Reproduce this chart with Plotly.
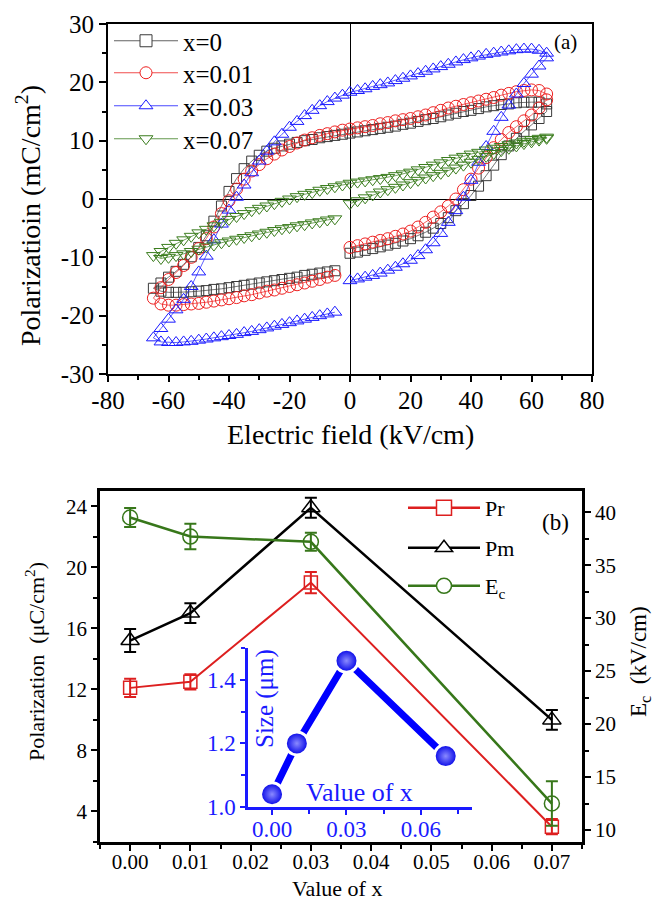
import plotly.graph_objects as go

# ---------------- Panel (a): P-E hysteresis loops ----------------
E_rise = [0, 2.5, 5, 7.5, 10, 12.5, 15, 17.5, 20, 22.5, 25, 27.5, 30, 32.5, 35, 37.5,
          40, 42.5, 45, 47.5, 50, 52.5, 55, 57.5, 60, 62.5, 65]
E_fall = [65, 62.5, 60, 57.5, 55, 52.5, 50, 47.5, 45, 42.5, 40, 37.5, 35, 32.5, 30, 27.5,
          25, 22.5, 20, 17.5, 15, 12.5, 10, 7.5, 5, 2.5, 0, -2.5, -5, -7.5, -10, -12.5,
          -15, -17.5, -20, -22.5, -25, -27.5, -30, -32.5, -35, -37.5, -40, -42.5, -45,
          -47.5, -50, -52.5, -55, -57.5, -60, -62.5, -65]
E_return = [-62.5, -60, -57.5, -55, -52.5, -50, -47.5, -45, -42.5, -40, -37.5, -35, -32.5,
            -30, -27.5, -25, -22.5, -20, -17.5, -15, -12.5, -10, -7.5, -5]

P0_rise = [-9.3, -9.1, -8.8, -8.5, -8.2, -7.9, -7.6, -7.2, -6.8, -6.3, -5.7, -5.0, -4.2, -3.2,
           -2.0, -0.8, 0.6, 2.2, 4.0, 5.8, 7.6, 9.1, 10.4, 11.6, 12.7, 13.8, 15.0]
P0_fall = [16.3, 16.6, 16.6, 16.6, 16.5, 16.3, 16.2, 16.0, 15.8, 15.5, 15.2, 15.0, 14.7, 14.4,
           14.1, 13.8, 13.6, 13.3, 13.0, 12.8, 12.5, 12.3, 12.1, 11.9, 11.7, 11.5, 11.3, 11.1,
           10.9, 10.7, 10.5, 10.2, 10.0, 9.7, 9.4, 9.1, 8.7, 8.2, 7.5, 6.5, 5.2, 3.5, 1.3,
           -1.2, -3.8, -6.3, -8.3, -9.9, -11.2, -12.4, -13.4, -14.4, -15.3]
P0_return = [-15.8, -16.0, -16.0, -16.0, -15.9, -15.8, -15.7, -15.5, -15.4, -15.2, -15.0, -14.8,
             -14.6, -14.4, -14.2, -14.0, -13.8, -13.6, -13.4, -13.1, -12.9, -12.7, -12.5, -12.3]

P1_rise = [-8.3, -8.0, -7.7, -7.4, -7.1, -6.8, -6.4, -6.0, -5.5, -4.8, -4.0, -3.1, -2.2, -1.2,
           0.0, 1.6, 3.4, 5.3, 7.1, 8.8, 10.2, 11.4, 12.4, 13.4, 14.4, 15.6, 17.0]
P1_fall = [18.0, 18.6, 18.7, 18.6, 18.4, 18.1, 17.8, 17.4, 17.1, 16.8, 16.5, 16.2, 15.9, 15.6,
           15.2, 14.8, 14.4, 14.1, 13.8, 13.6, 13.4, 13.1, 12.9, 12.6, 12.4, 12.2, 12.0, 11.8,
           11.5, 11.2, 10.9, 10.5, 10.1, 9.6, 9.0, 8.4, 7.7, 6.9, 5.9, 4.8, 3.4, 1.7, -0.3,
           -2.5, -4.8, -6.8, -8.5, -10.0, -11.4, -12.6, -13.8, -15.2, -17.0]
P1_return = [-18.0, -18.2, -18.2, -18.1, -18.0, -17.9, -17.7, -17.5, -17.3, -17.1, -16.9, -16.6,
             -16.4, -16.1, -15.8, -15.6, -15.3, -15.0, -14.7, -14.4, -14.1, -13.8, -13.4, -13.1]

P3_rise = [-14.0, -13.7, -13.4, -13.1, -12.7, -12.2, -11.7, -11.1, -10.5, -9.7, -8.7, -7.5, -5.9,
           -4.0, -2.0, 0.3, 3.2, 6.3, 9.0, 11.6, 14.0, 16.1, 18.0, 19.8, 21.4, 22.8, 24.2]
P3_fall = [25.0, 25.5, 25.7, 25.7, 25.6, 25.4, 25.2, 25.0, 24.8, 24.5, 24.2, 23.9, 23.5, 23.1,
           22.7, 22.3, 21.9, 21.5, 21.1, 20.7, 20.3, 19.9, 19.6, 19.3, 18.9, 18.6, 18.3, 17.8,
           17.3, 16.7, 16.0, 15.2, 14.3, 13.3, 12.3, 11.1, 9.8, 8.2, 6.5, 4.5, 2.4, 0.3, -1.9,
           -4.3, -7.0, -9.8, -12.5, -15.0, -17.2, -19.0, -20.6, -22.2, -23.8]
P3_return = [-24.5, -24.6, -24.6, -24.5, -24.4, -24.2, -24.0, -23.8, -23.6, -23.4, -23.2, -22.9,
             -22.7, -22.4, -22.1, -21.8, -21.5, -21.2, -20.9, -20.6, -20.3, -20.0, -19.7, -19.4]

P7_rise = [-0.8, -0.3, 0.2, 0.7, 1.2, 1.6, 2.0, 2.4, 2.8, 3.2, 3.6, 4.0, 4.4, 4.8, 5.3, 5.8,
           6.3, 6.8, 7.3, 7.8, 8.3, 8.7, 9.1, 9.5, 9.8, 10.1, 10.4]
P7_fall = [10.6, 10.4, 10.2, 9.9, 9.6, 9.3, 9.0, 8.7, 8.4, 8.0, 7.7, 7.3, 7.0, 6.6, 6.2, 5.8,
           5.4, 5.0, 4.6, 4.3, 4.0, 3.7, 3.5, 3.3, 3.1, 2.9, 2.7, 2.4, 2.1, 1.8, 1.5, 1.1, 0.8,
           0.4, 0.0, -0.4, -0.8, -1.2, -1.6, -2.0, -2.5, -3.0, -3.5, -4.0, -4.6, -5.2, -5.8,
           -6.4, -7.0, -7.6, -8.3, -9.0, -9.7]
P7_return = [-10.2, -10.0, -9.7, -9.4, -9.0, -8.6, -8.2, -7.9, -7.5, -7.2, -6.9, -6.6, -6.3,
             -6.0, -5.7, -5.4, -5.1, -4.9, -4.6, -4.4, -4.1, -3.9, -3.6, -3.4]

loop_names = ["x=0", "x=0.01", "x=0.03", "x=0.07"]
E_ticks = [-80, -60, -40, -20, 0, 20, 40, 60, 80]
P_ticks = [-30, -20, -10, 0, 10, 20, 30]

# ---------------- Panel (b) ----------------
x_vals = [0.00, 0.01, 0.03, 0.07]
Pr = [12.1, 12.5, 19.0, 3.0]
Pr_err = [0.6, 0.5, 0.7, 0.5]
Pm = [15.2, 17.0, 23.9, 10.0]
Pm_err = [0.75, 0.65, 0.65, 0.65]
Ec = [39.5, 37.7, 37.2, 12.5]
Ec_err = [0.9, 1.2, 0.85, 2.1]
size_um = [1.04, 1.20, 1.46, 1.16]

W, H = 654, 902
def px(x): return x / W
def py(y): return (H - y) / H

FONT = "Liberation Serif"
BLUE = "#1a1aff"
fig = go.Figure()

E_all = E_rise + E_fall + E_return
loops = [
    (P0_rise + P0_fall + P0_return, "#3a3a3a", "square-open", "square", 10),
    (P1_rise + P1_fall + P1_return, "#ee2020", "circle-open", "circle", 12),
    (P3_rise + P3_fall + P3_return, BLUE, "triangle-up-open", "triangle-up", 12),
    (P7_rise + P7_fall + P7_return, "#3b7d1e", "triangle-down-open", "triangle-down", 12),
]
for (P, col, sym, lsym, ms) in loops:
    assert len(P) == len(E_all)
    fig.add_trace(go.Scatter(x=E_all, y=P, mode="lines+markers", showlegend=False,
                             line=dict(color=col, width=0.7),
                             marker=dict(symbol=sym, size=ms, color=col, line=dict(width=1, color=col)),
                             xaxis="x", yaxis="y"))

# one legend per entry so that every entry sits where the reference puts it
leg_a_y = [41, 73, 106, 139]
leg_names_a = ["legend", "legend2", "legend3", "legend4"]
for i, (P, col, sym, lsym, ms) in enumerate(loops):
    fig.add_trace(go.Scatter(x=[None], y=[None], mode="lines+markers", name=loop_names[i],
                             legend=leg_names_a[i],
                             line=dict(color=col, width=0.8),
                             marker=dict(symbol=lsym, size=12, color="white", line=dict(width=1, color=col)),
                             xaxis="x", yaxis="y"))

# panel (b) traces
cR, cK, cG = "#dd1f1f", "#000000", "#37771a"
fig.add_trace(go.Scatter(x=x_vals, y=Pr, mode="lines+markers", showlegend=False,
                         line=dict(color=cR, width=2),
                         marker=dict(symbol="square-open", size=13, color=cR, line=dict(width=1.5, color=cR)),
                         error_y=dict(type="data", array=Pr_err, color=cR, thickness=2, width=6),
                         xaxis="x2", yaxis="y2"))
fig.add_trace(go.Scatter(x=x_vals, y=Pm, mode="lines+markers", showlegend=False,
                         line=dict(color=cK, width=2.5),
                         marker=dict(symbol="triangle-up-open", size=16, color=cK, line=dict(width=1.5, color=cK)),
                         error_y=dict(type="data", array=Pm_err, color=cK, thickness=2, width=6),
                         xaxis="x2", yaxis="y2"))
fig.add_trace(go.Scatter(x=x_vals, y=Ec, mode="lines+markers", showlegend=False,
                         line=dict(color=cG, width=2.5),
                         marker=dict(symbol="circle-open", size=15, color=cG, line=dict(width=1.5, color=cG)),
                         error_y=dict(type="data", array=Ec_err, color=cG, thickness=2, width=6),
                         xaxis="x2", yaxis="y3"))
leg_b_y = [508, 548, 586]
leg_names_b = ["legend5", "legend6", "legend7"]
for i, (nm, col, sym) in enumerate([("Pr", cR, "square"), ("Pm", cK, "triangle-up"),
                                    ("E<sub>c</sub>", cG, "circle")]):
    fig.add_trace(go.Scatter(x=[None], y=[None], mode="lines+markers", name=nm,
                             legend=leg_names_b[i],
                             line=dict(color=col, width=2.5),
                             marker=dict(symbol=sym, size=15, color="white", line=dict(width=1.5, color=col)),
                             xaxis="x2", yaxis="y2"))

# inset
fig.add_trace(go.Scatter(x=x_vals, y=size_um, mode="lines+markers", showlegend=False,
                         line=dict(color="#0000ff", width=7),
                         marker=dict(symbol="circle", size=23, color="#0000e6",
                                     gradient=dict(type="radial", color="#8a8aff"),
                                     line=dict(width=3, color="white")),
                         xaxis="x4", yaxis="y4"))

axfont = dict(family=FONT, size=25, color="black")
axfontb = dict(family=FONT, size=21, color="black")
common = dict(showgrid=False, showline=True, linecolor="black", ticks="outside",
              tickcolor="black", tickwidth=1.5)

layout = dict(
    width=W, height=H, margin=dict(l=0, r=0, t=0, b=0, pad=0, autoexpand=False),
    paper_bgcolor="white", plot_bgcolor="rgba(0,0,0,0)",
    font=dict(family=FONT, color="black"),
    xaxis=dict(domain=[px(108), px(592)], anchor="y", range=[-80, 80],
               tickvals=E_ticks, ticktext=[str(v) for v in E_ticks],
               ticklen=6, linewidth=2, mirror=True, zeroline=True, zerolinecolor="black",
               zerolinewidth=1, tickfont=axfont, ticklabelstandoff=-3,
               minor=dict(dtick=10, ticklen=4, ticks="outside", tickcolor="black"), **common),
    yaxis=dict(domain=[py(374), py(24)], anchor="x", range=[-30, 30],
               tickvals=P_ticks, ticktext=[str(v) for v in P_ticks],
               ticklen=7, linewidth=2, mirror=True, zeroline=True, zerolinecolor="black",
               zerolinewidth=1, tickfont=axfont,
               minor=dict(dtick=5, ticklen=4, ticks="outside", tickcolor="black"), **common),
    xaxis2=dict(domain=[px(100), px(582)], anchor="y2", range=[-0.005, 0.075], dtick=0.01,
                tickformat=".2f", ticklen=6, linewidth=2.5, mirror=True, zeroline=False,
                tickfont=axfontb, ticklabelstandoff=-7,
                minor=dict(dtick=0.005, ticklen=4, ticks="outside", tickcolor="black"), **common),
    yaxis2=dict(domain=[py(842), py(491)], anchor="x2", range=[2, 25],
                tickvals=[4, 8, 12, 16, 20, 24], ticklen=6, linewidth=2.5, zeroline=False,
                tickfont=axfontb,
                minor=dict(tickvals=[2, 6, 10, 14, 18, 22], ticklen=4, ticks="outside", tickcolor="black"),
                **common),
    yaxis3=dict(overlaying="y2", side="right", anchor="x2", range=[8.87, 42],
                tickvals=[10, 15, 20, 25, 30, 35, 40], ticklen=6, linewidth=2.5, zeroline=False,
                tickfont=axfontb,
                minor=dict(tickvals=[12.5, 17.5, 22.5, 27.5, 32.5, 37.5], ticklen=4, ticks="outside",
                           tickcolor="black"),
                **common),
    xaxis4=dict(domain=[px(248), px(472)], anchor="y4", range=[-0.0097, 0.0806],
                tickvals=[0, 0.03, 0.06], ticktext=["0.00", "0.03", "0.06"],
                showgrid=False, showline=True, linecolor=BLUE, linewidth=2.5,
                ticks="outside", ticklen=5, tickcolor=BLUE, tickwidth=1.5, zeroline=False,
                tickfont=dict(family=FONT, size=23, color=BLUE), ticklabelstandoff=-5,
                minor=dict(tickvals=[0.015, 0.045, 0.075], ticklen=4, ticks="outside", tickcolor=BLUE)),
    yaxis4=dict(domain=[py(807), py(648)], anchor="x4", range=[1.0, 1.5],
                tickvals=[1.0, 1.2, 1.4], ticktext=["1.0", "1.2", "1.4"],
                showgrid=False, showline=True, linecolor=BLUE, linewidth=2.5,
                ticks="outside", ticklen=5, tickcolor=BLUE, tickwidth=1.5, zeroline=False,
                tickfont=dict(family=FONT, size=23, color=BLUE),
                minor=dict(tickvals=[1.1, 1.3, 1.5], ticklen=4, ticks="outside", tickcolor=BLUE)),
)
for i, nm in enumerate(leg_names_a):
    layout[nm] = dict(x=px(109), y=py(leg_a_y[i]), xanchor="left", yanchor="middle",
                      bgcolor="rgba(0,0,0,0)", font=dict(family=FONT, size=25), itemwidth=64)
for i, nm in enumerate(leg_names_b):
    layout[nm] = dict(x=px(403), y=py(leg_b_y[i]), xanchor="left", yanchor="middle",
                      bgcolor="rgba(0,0,0,0)", font=dict(family=FONT, size=22), itemwidth=72)
fig.update_layout(**layout)

ann = [
    dict(x=px(28), y=py(216), text="Polarizatioin (mC/cm<sup>2</sup>)", textangle=-90, size=28),
    dict(x=px(350), y=py(434), text="Electric field (kV/cm)", size=28),
    dict(x=px(565), y=py(42), text="(a)", size=21),
    dict(x=px(35), y=py(662), text="Polarization  (μC/cm<sup>2</sup>)", textangle=-90, size=22),
    dict(x=px(640), y=py(662), text="E<sub>c</sub>  (kV/cm)", textangle=-90, size=23),
    dict(x=px(555), y=py(522), text="(b)", size=23),
    dict(x=px(265), y=py(699), text="Size (μm)", textangle=-90, size=25, color=BLUE),
    dict(x=px(359), y=py(792), text="Value of x", size=26, color=BLUE),
]
for a in ann:
    fig.add_annotation(x=a["x"], y=a["y"], xref="paper", yref="paper", text=a["text"],
                       showarrow=False, textangle=a.get("textangle", 0),
                       xanchor="center", yanchor="middle",
                       font=dict(family=FONT, size=a["size"], color=a.get("color", "black")))
# bottom title of panel (b), anchored to the bottom edge so that it stays whole
fig.add_annotation(x=px(337), y=0, xref="paper", yref="paper", text="Value of x",
                   showarrow=False, xanchor="center", yanchor="bottom", borderpad=0,
                   font=dict(family=FONT, size=22, color="black"))

fig.write_html("out.html")
